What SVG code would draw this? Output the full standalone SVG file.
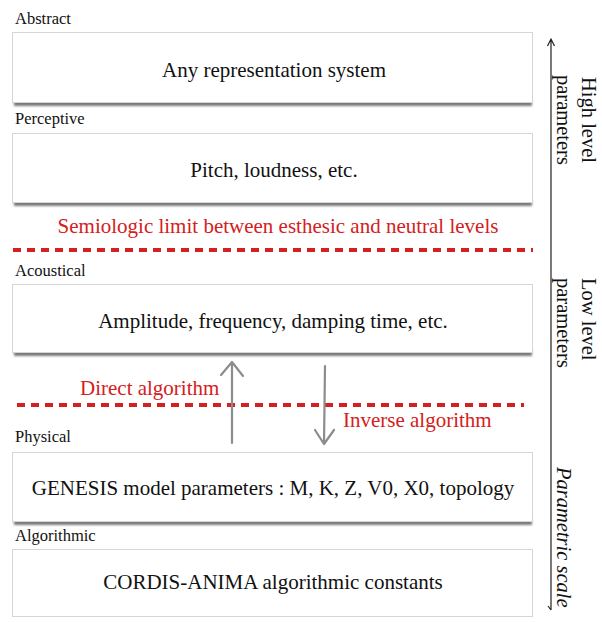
<svg xmlns="http://www.w3.org/2000/svg" width="602" height="622" viewBox="0 0 602 622">
<defs>
<style>
.box{fill:#ffffff;stroke:#d6d6d6;stroke-width:1}
.shadow{fill:#7a7a7a}
.lbl{font-family:"Liberation Serif","Times New Roman",serif;font-size:16.5px;fill:#111}
.main{font-family:"Liberation Serif","Times New Roman",serif;font-size:21px;fill:#111;text-anchor:middle}
.red{font-family:"Liberation Serif","Times New Roman",serif;font-size:21px;fill:#d42020}
.side{font-family:"Liberation Serif","Times New Roman",serif;font-size:20.5px;fill:#111}
.dash{stroke:#d42020;stroke-width:4;stroke-dasharray:8 6;fill:none}
.garrow{stroke:#8c8c8c;stroke-width:2.2;fill:none;stroke-linecap:round;stroke-linejoin:round}
.axis{stroke:#222;stroke-width:1.2;fill:none}
</style>
<filter id="blur" x="-5%" y="-100%" width="110%" height="300%"><feGaussianBlur stdDeviation="1.2"/></filter>
</defs>

<g id="abstract">
<text class="lbl" x="15" y="24">Abstract</text>
<rect class="shadow" x="14" y="100" width="518" height="6" filter="url(#blur)"/>
<rect class="box" x="12.5" y="32.5" width="520" height="70"/>
<text class="main" x="274" y="77">Any representation system</text>
</g>

<g id="perceptive">
<text class="lbl" x="15" y="124">Perceptive</text>
<rect class="shadow" x="14" y="200" width="518" height="6" filter="url(#blur)"/>
<rect class="box" x="12.5" y="133.5" width="520" height="69"/>
<text class="main" x="274" y="177">Pitch, loudness, etc.</text>
</g>

<g id="semiologic">
<text class="red" x="278" y="233" text-anchor="middle">Semiologic limit between esthesic and neutral levels</text>
</g>

<g id="acoustical">
<text class="lbl" x="15" y="276">Acoustical</text>
<rect class="shadow" x="14" y="350" width="518" height="6" filter="url(#blur)"/>
<rect class="box" x="12.5" y="284.5" width="520" height="68"/>
<text class="main" x="273" y="328">Amplitude, frequency, damping time, etc.</text>
</g>

<g id="physical">
<text class="lbl" x="15" y="442">Physical</text>
<rect class="shadow" x="14" y="519" width="518" height="6" filter="url(#blur)"/>
<rect class="box" x="12.5" y="452.5" width="520" height="69"/>
<text class="main" x="273" y="495">GENESIS model parameters : M, K, Z, V0, X0, topology</text>
</g>

<g id="algorithmic">
<text class="lbl" x="15" y="541">Algorithmic</text>
<rect class="box" x="12.5" y="549.5" width="520" height="67"/>
<text class="main" x="273" y="589">CORDIS-ANIMA algorithmic constants</text>
</g>

<g id="connectors">
<line class="dash" x1="13" y1="250" x2="533" y2="250"/>
<line class="dash" x1="17" y1="405" x2="524" y2="405"/>
<path class="garrow" d="M232 443 L232 362 M221 375 L232 362 L243 376"/>
<path class="garrow" d="M325 366 L324 444 M315 430 L324 444 L334 430"/>
<path class="axis" d="M551 610 L551 39 M547.5 46 L551 39 L554.5 46 M551 610 L548 606"/>
</g>

<g id="direct-label">
<text class="red" x="80" y="395">Direct algorithm</text>
</g>
<g id="inverse-label">
<text class="red" x="343" y="427">Inverse algorithm</text>
</g>

<g id="axis-labels">
<text class="side" transform="translate(582 77) rotate(90)">High level</text>
<text class="side" transform="translate(557 75) rotate(90)">parameters</text>
<text class="side" transform="translate(582 278) rotate(90)">Low level</text>
<text class="side" transform="translate(557 278) rotate(90)">parameters</text>
<text class="side" font-style="italic" transform="translate(557 467) rotate(90)">Parametric scale</text>
</g>
</svg>
